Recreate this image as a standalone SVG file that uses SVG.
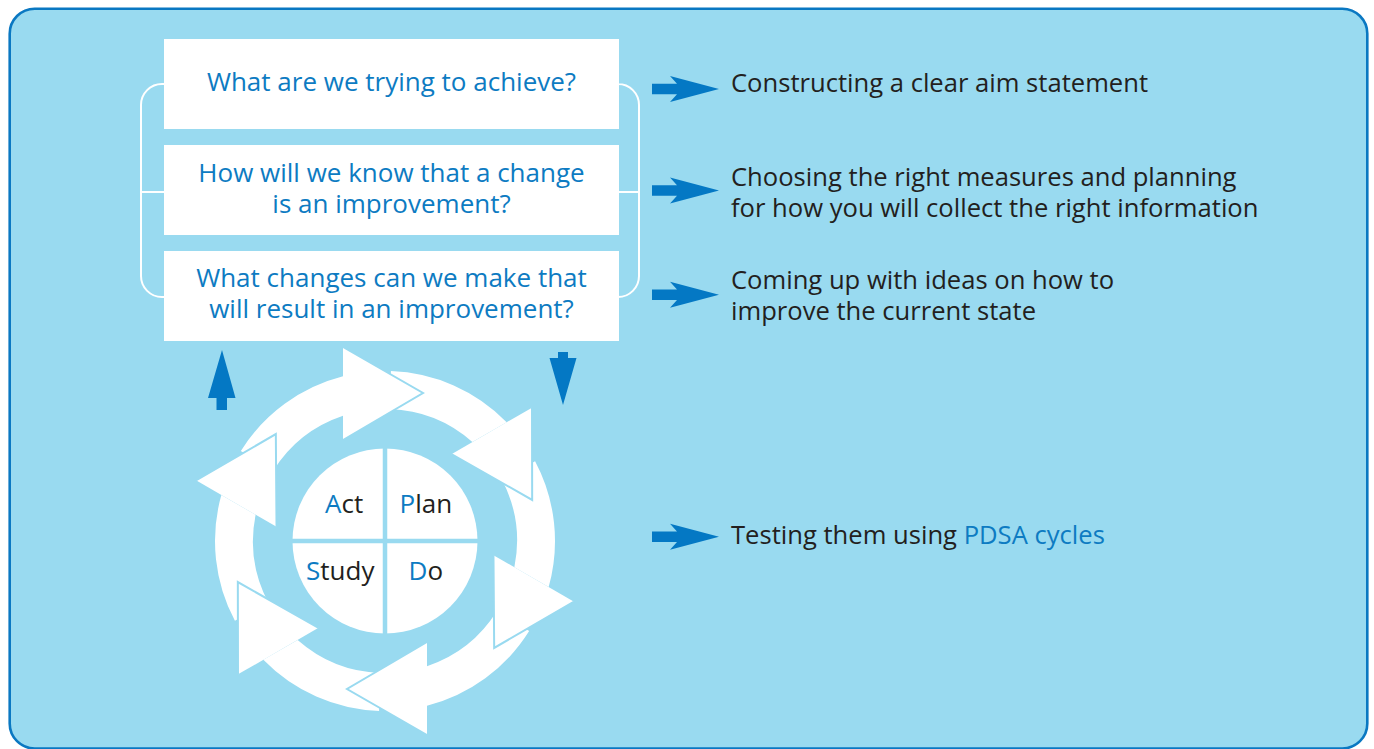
<svg xmlns="http://www.w3.org/2000/svg" xmlns:xlink="http://www.w3.org/1999/xlink" width="1374" height="749" viewBox="0 0 1374 749">
  <style>
    .panel { fill: #99daf0; stroke: #0a78c2; stroke-width: 2.6; }
    .qbox { fill: #ffffff; }
    .bracket { fill: none; stroke: #ffffff; stroke-width: 2; }
    .q { font-family: "Open Sans", "Noto Sans", sans-serif; font-size: 26px; fill: #0d7bc2; text-anchor: middle; }
    .note { font-family: "Open Sans", "Noto Sans", sans-serif; font-size: 25.6px; fill: #231f20; }
    .hl { fill: #0d7bc2; }
    .pointer { fill: #0478c4; }
    .ring-body { fill: #ffffff; }
    .ring-head { fill: #ffffff; }
    .ring-edge { fill: none; stroke: #99daf0; stroke-width: 2; stroke-linejoin: miter; }
    .hub { fill: #ffffff; }
    .hub-split { stroke: #99daf0; stroke-width: 4.5; }
    .step { font-family: "Open Sans", "Noto Sans", sans-serif; font-size: 26px; fill: #231f20; }
  </style>
  <defs>
    <!-- one arc segment of the cycle, drawn around the origin; the others are rotated copies -->
    <path id="seg-body" d="M -144.16,-90.08 A 170 170 0 0 1 -42,-164.73 L -42,-125.14 A 132 132 0 0 0 -111.94,-69.95 Z"/>
    <g id="seg-head">
      <path class="ring-head" d="M -42,-194 L 38,-148 L -42,-101 Z"/>
      <path class="ring-edge" d="M -42,-194 L 38,-148 L -42,-101"/>
    </g>
    <!-- block pointer to the right, centred on y = 0 -->
    <path id="pointer-right" d="M 652,-5.3 L 677,-5.3 L 670,-13 L 719,0 L 670,13 L 677,5.3 L 652,5.3 Z"/>
  </defs>

  <rect x="0" y="0" width="1374" height="749" fill="#ffffff"/>
  <rect class="panel" x="9.7" y="8.7" width="1357.6" height="739.8" rx="25" ry="25"/>

  <!-- bracket linking the three questions -->
  <g id="bracket">
    <path class="bracket" d="M 164,84 H 162 A 21 21 0 0 0 141,105 V 276 A 21 21 0 0 0 162,297 H 164"/>
    <path class="bracket" d="M 141,192 H 164"/>
    <path class="bracket" d="M 619,84 H 618 A 21 21 0 0 1 639,105 V 276 A 21 21 0 0 1 618,297 H 619"/>
    <path class="bracket" d="M 619,192 H 639"/>
  </g>

  <g id="q-aim">
    <rect class="qbox" x="164" y="39" width="455" height="90"/>
    <text class="q" x="391.5" y="91">What are we trying to achieve?</text>
  </g>
  <g id="q-measure">
    <rect class="qbox" x="164" y="145" width="455" height="90"/>
    <text class="q" x="391.5" y="181.7">How will we know that a change</text>
    <text class="q" x="391.5" y="212.7">is an improvement?</text>
  </g>
  <g id="q-change">
    <rect class="qbox" x="164" y="251" width="455" height="90"/>
    <text class="q" x="391.5" y="287">What changes can we make that</text>
    <text class="q" x="391.5" y="317.5">will result in an improvement?</text>
  </g>

  <g id="note-aim">
    <text class="note" x="731" y="92">Constructing a clear aim statement</text>
  </g>
  <g id="note-measure">
    <text class="note" x="731" y="186">Choosing the right measures and planning</text>
    <text class="note" x="731" y="217">for how you will collect the right information</text>
  </g>
  <g id="note-change">
    <text class="note" x="731" y="288.5">Coming up with ideas on how to</text>
    <text class="note" x="731" y="319.5">improve the current state</text>
  </g>
  <g id="note-test">
    <text class="note" x="731" y="544.3">Testing them using <tspan class="hl">PDSA cycles</tspan></text>
  </g>

  <!-- PDSA cycle: six arc arrows round a four-part hub -->
  <g id="pdsa-cycle" transform="translate(385,541)">
    <g class="ring-body">
      <use xlink:href="#seg-body" href="#seg-body"/>
      <use xlink:href="#seg-body" href="#seg-body" transform="rotate(60)"/>
      <use xlink:href="#seg-body" href="#seg-body" transform="rotate(120)"/>
      <use xlink:href="#seg-body" href="#seg-body" transform="rotate(180)"/>
      <use xlink:href="#seg-body" href="#seg-body" transform="rotate(240)"/>
      <use xlink:href="#seg-body" href="#seg-body" transform="rotate(300)"/>
    </g>
    <use xlink:href="#seg-head" href="#seg-head"/>
    <use xlink:href="#seg-head" href="#seg-head" transform="rotate(60)"/>
    <use xlink:href="#seg-head" href="#seg-head" transform="rotate(120)"/>
    <use xlink:href="#seg-head" href="#seg-head" transform="rotate(180)"/>
    <use xlink:href="#seg-head" href="#seg-head" transform="rotate(240)"/>
    <use xlink:href="#seg-head" href="#seg-head" transform="rotate(300)"/>

    <circle class="hub" cx="0" cy="0" r="92.5"/>
    <line class="hub-split" x1="0" y1="-93" x2="0" y2="93"/>
    <line class="hub-split" x1="-93" y1="0" x2="93" y2="0"/>
  </g>
  <g id="step-labels">
    <text class="step" x="325" y="513.3"><tspan class="hl">A</tspan>ct</text>
    <text class="step" x="399.5" y="513.3"><tspan class="hl">P</tspan>lan</text>
    <text class="step" x="306" y="580"><tspan class="hl">S</tspan>tudy</text>
    <text class="step" x="408.5" y="580"><tspan class="hl">D</tspan>o</text>
  </g>

  <g id="connectors">
    <use xlink:href="#pointer-right" href="#pointer-right" class="pointer" transform="translate(0,89)"/>
    <use xlink:href="#pointer-right" href="#pointer-right" class="pointer" transform="translate(0,190.5)"/>
    <use xlink:href="#pointer-right" href="#pointer-right" class="pointer" transform="translate(0,294.7)"/>
    <use xlink:href="#pointer-right" href="#pointer-right" class="pointer" transform="translate(0,536.7)"/>
    <!-- up from the cycle to the questions, down from the questions into the cycle -->
    <path class="pointer" d="M 222,350 L 235.5,398 L 227,398 L 227,410 L 216.5,410 L 216.5,398 L 208,398 Z"/>
    <path class="pointer" d="M 558,352 L 568,352 L 568,358 L 576.5,358 L 563,405 L 549.5,358 L 558,358 Z"/>
  </g>
</svg>
